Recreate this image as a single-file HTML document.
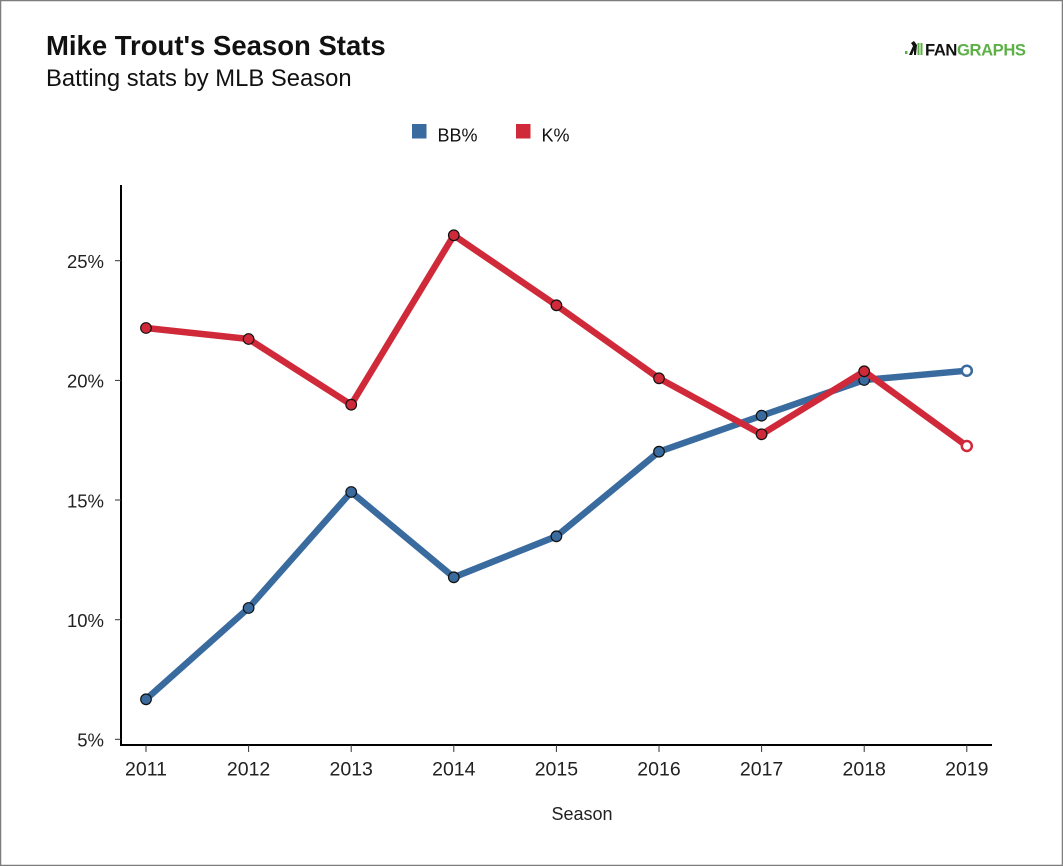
<!DOCTYPE html>
<html>
<head>
<meta charset="utf-8">
<style>
html,body{margin:0;padding:0;background:#fff;}
#wrap{position:relative;width:1063px;height:866px;overflow:hidden;background:#fff;}
svg{position:absolute;left:0;top:0;}
text{font-family:"Liberation Sans",sans-serif;}
</style>
</head>
<body>
<div id="wrap">
<svg width="1063" height="866" viewBox="0 0 1063 866" xmlns="http://www.w3.org/2000/svg">
  <rect x="0.5" y="0.5" width="1062" height="865" fill="#fff" stroke="#7d7d7d" stroke-width="1.5"/>
  <!-- Titles -->
  <text x="46" y="55" font-size="27.5" font-weight="bold" fill="#111">Mike Trout's Season Stats</text>
  <text x="46" y="86" font-size="23.8" fill="#111">Batting stats by MLB Season</text>

  <!-- Logo -->
  <g>
    <rect x="905" y="51" width="2.5" height="3" fill="#5cb046"/>
    <path d="M909 55 L913 46 L911 43 L914 41 L917 45 L916 55 L914 55 L914 50 L912 55 Z" fill="#111"/>
    <rect x="917.5" y="43" width="2" height="12" fill="#5cb046"/>
    <rect x="920.5" y="43" width="2" height="12" fill="#5cb046"/>
    <text x="925" y="55.5" font-size="16.6" font-weight="bold" fill="#111" letter-spacing="-0.4">FAN<tspan fill="#5cb046">GRAPHS</tspan></text>
  </g>

  <!-- Legend -->
  <rect x="412" y="124" width="14.5" height="14.5" fill="#3a6b9f"/>
  <text x="437.5" y="141.5" font-size="18" fill="#111">BB%</text>
  <rect x="516" y="124" width="14.5" height="14.5" fill="#d02a3a"/>
  <text x="541.5" y="141.5" font-size="18" fill="#111">K%</text>

  <!-- Axes -->
  <line x1="121" y1="185" x2="121" y2="746" stroke="#000" stroke-width="2"/>
  <line x1="120" y1="745" x2="992" y2="745" stroke="#000" stroke-width="2"/>

  <!-- Y ticks -->
  <g stroke="#333" stroke-width="1">
    <line x1="115" y1="260.7" x2="121" y2="260.7"/>
    <line x1="115" y1="380.4" x2="121" y2="380.4"/>
    <line x1="115" y1="500" x2="121" y2="500"/>
    <line x1="115" y1="619.7" x2="121" y2="619.7"/>
    <line x1="115" y1="739.3" x2="121" y2="739.3"/>
  </g>
  <g font-size="18.5" fill="#222" text-anchor="end">
    <text x="104" y="268">25%</text>
    <text x="104" y="387.7">20%</text>
    <text x="104" y="507.3">15%</text>
    <text x="104" y="627">10%</text>
    <text x="104" y="746.6">5%</text>
  </g>

  <!-- X ticks -->
  <g stroke="#333" stroke-width="1">
    <line x1="146" y1="745" x2="146" y2="752"/>
    <line x1="248.6" y1="745" x2="248.6" y2="752"/>
    <line x1="351.2" y1="745" x2="351.2" y2="752"/>
    <line x1="453.8" y1="745" x2="453.8" y2="752"/>
    <line x1="556.4" y1="745" x2="556.4" y2="752"/>
    <line x1="659" y1="745" x2="659" y2="752"/>
    <line x1="761.6" y1="745" x2="761.6" y2="752"/>
    <line x1="864.2" y1="745" x2="864.2" y2="752"/>
    <line x1="966.8" y1="745" x2="966.8" y2="752"/>
  </g>
  <g font-size="19.5" fill="#222" text-anchor="middle">
    <text x="146" y="775.5">2011</text>
    <text x="248.6" y="775.5">2012</text>
    <text x="351.2" y="775.5">2013</text>
    <text x="453.8" y="775.5">2014</text>
    <text x="556.4" y="775.5">2015</text>
    <text x="659" y="775.5">2016</text>
    <text x="761.6" y="775.5">2017</text>
    <text x="864.2" y="775.5">2018</text>
    <text x="966.8" y="775.5">2019</text>
  </g>
  <text x="582" y="820" font-size="18" fill="#222" text-anchor="middle">Season</text>

  <!-- BB% series -->
  <polyline fill="none" stroke="#3a6b9f" stroke-width="6.5" stroke-linejoin="round" stroke-linecap="round"
    points="146,699.3 248.6,608 351.2,492 453.8,577.3 556.4,536.3 659,451.7 761.6,415.7 864.2,380 966.8,370.7"/>
  <g fill="#3a6b9f" stroke="#111" stroke-width="1.2">
    <circle cx="146" cy="699.3" r="5.3"/>
    <circle cx="248.6" cy="608" r="5.3"/>
    <circle cx="351.2" cy="492" r="5.3"/>
    <circle cx="453.8" cy="577.3" r="5.3"/>
    <circle cx="556.4" cy="536.3" r="5.3"/>
    <circle cx="659" cy="451.7" r="5.3"/>
    <circle cx="761.6" cy="415.7" r="5.3"/>
    <circle cx="864.2" cy="380" r="5.3"/>
  </g>
  <circle cx="966.8" cy="370.7" r="5" fill="#fff" stroke="#3a6b9f" stroke-width="2.5"/>

  <!-- K% series -->
  <polyline fill="none" stroke="#d02a3a" stroke-width="6.5" stroke-linejoin="round" stroke-linecap="round"
    points="146,328 248.6,339 351.2,404.7 453.8,235.3 556.4,305.3 659,378.3 761.6,434.3 864.2,371.3 966.8,446"/>
  <g fill="#d02a3a" stroke="#111" stroke-width="1.2">
    <circle cx="146" cy="328" r="5.3"/>
    <circle cx="248.6" cy="339" r="5.3"/>
    <circle cx="351.2" cy="404.7" r="5.3"/>
    <circle cx="453.8" cy="235.3" r="5.3"/>
    <circle cx="556.4" cy="305.3" r="5.3"/>
    <circle cx="659" cy="378.3" r="5.3"/>
    <circle cx="761.6" cy="434.3" r="5.3"/>
    <circle cx="864.2" cy="371.3" r="5.3"/>
  </g>
  <circle cx="966.8" cy="446" r="5" fill="#fff" stroke="#d02a3a" stroke-width="2.5"/>
</svg>
</div>
</body>
</html>
